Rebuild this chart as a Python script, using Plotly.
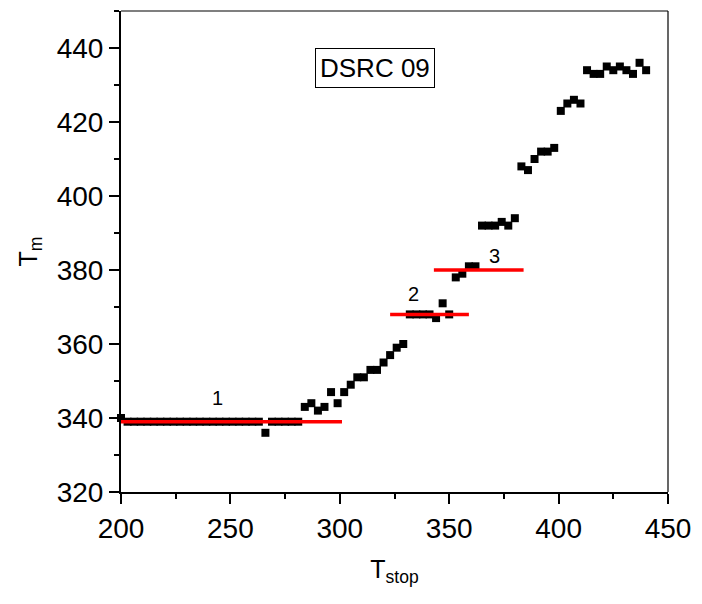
import plotly.graph_objects as go

# Measured melting temperature T_m against stop temperature T_stop
t_stop = [200, 203, 206, 209, 212, 215, 218, 221, 224, 227, 230, 233, 236, 239,
          242, 245, 248, 251, 254, 257, 260, 263, 266, 269, 272, 275, 278, 281,
          284, 287, 290, 293, 296, 299, 302, 305, 308, 311, 314, 317, 320, 323,
          326, 329, 332, 335, 338, 341, 344, 347, 350, 353, 356, 359, 362, 365,
          368, 371, 374, 377, 380, 383, 386, 389, 392, 395, 398, 401, 404, 407,
          410, 413, 416, 419, 422, 425, 428, 431, 434, 437, 440]
t_m = [340, 339, 339, 339, 339, 339, 339, 339, 339, 339, 339, 339, 339, 339,
       339, 339, 339, 339, 339, 339, 339, 339, 336, 339, 339, 339, 339, 339,
       343, 344, 342, 343, 347, 344, 347, 349, 351, 351, 353, 353, 355, 357,
       359, 360, 368, 368, 368, 368, 367, 371, 368, 378, 379, 381, 381, 392,
       392, 392, 393, 392, 394, 408, 407, 410, 412, 412, 413, 423, 425, 426,
       425, 434, 433, 433, 435, 434, 435, 434, 433, 436, 434]

# Plateau levels (red segments) and their labels
plateau_level = [339, 368, 380]
plateau_start = [196, 323, 343]
plateau_end = [301, 359, 384]
plateau_name = ["1", "2", "3"]
plateau_label_x = [244, 333.6, 370.6]
plateau_label_y = [345.3, 373.4, 383.8]

sample_name = "DSRC 09"

FONT = "Arial, Liberation Sans, sans-serif"

fig = go.Figure()

fig.add_trace(go.Scatter(
    x=t_stop, y=t_m, mode="markers",
    marker=dict(symbol="square", size=8, color="black", line=dict(width=0)),
    cliponaxis=False, showlegend=False,
))

for lvl, x0, x1 in zip(plateau_level, plateau_start, plateau_end):
    fig.add_trace(go.Scatter(
        x=[x0, x1], y=[lvl, lvl], mode="lines",
        line=dict(color="#ff0000", width=3.5),
        showlegend=False,
    ))

for name, lx, ly in zip(plateau_name, plateau_label_x, plateau_label_y):
    fig.add_annotation(x=lx, y=ly, text=name, showarrow=False,
                       font=dict(family=FONT, size=20, color="black"))

fig.add_annotation(x=316, y=434.7, text=sample_name, showarrow=False,
                   font=dict(family=FONT, size=26, color="black"),
                   bordercolor="black", borderwidth=1, borderpad=4,
                   bgcolor="white")

# thin frame on the top and right sides
fig.add_shape(type="line", xref="paper", yref="paper", x0=0, x1=1, y0=1, y1=1,
              line=dict(color="black", width=1.2))
fig.add_shape(type="line", xref="paper", yref="paper", x0=1, x1=1, y0=0, y1=1,
              line=dict(color="black", width=1.2))

axis_common = dict(
    showgrid=False, zeroline=False, showline=True, linecolor="black",
    linewidth=2, ticks="outside", ticklen=10, tickwidth=2, tickcolor="black",
    tickfont=dict(family=FONT, size=28, color="black"),
)

fig.update_xaxes(
    range=[200, 450], tickmode="array", tickvals=[200, 250, 300, 350, 400, 450],
    minor=dict(tickvals=[225, 275, 325, 375, 425], ticks="outside",
               ticklen=5, tickwidth=2, tickcolor="black"),
    title=dict(text="T<sub>stop</sub>", font=dict(family=FONT, size=25, color="black"),
               standoff=18),
    **axis_common,
)
fig.update_yaxes(
    range=[320, 450], tickmode="array", tickvals=[320, 340, 360, 380, 400, 420, 440],
    minor=dict(tickvals=[330, 350, 370, 390, 410, 430, 450], ticks="outside",
               ticklen=5, tickwidth=2, tickcolor="black"),
    title=dict(text="T<sub>m</sub>", font=dict(family=FONT, size=25, color="black"),
               standoff=12),
    **axis_common,
)

fig.update_layout(
    width=702, height=604,
    margin=dict(l=121, r=28, t=11, b=112),
    plot_bgcolor="white", paper_bgcolor="white",
    showlegend=False,
)

fig.write_html("out.html")
